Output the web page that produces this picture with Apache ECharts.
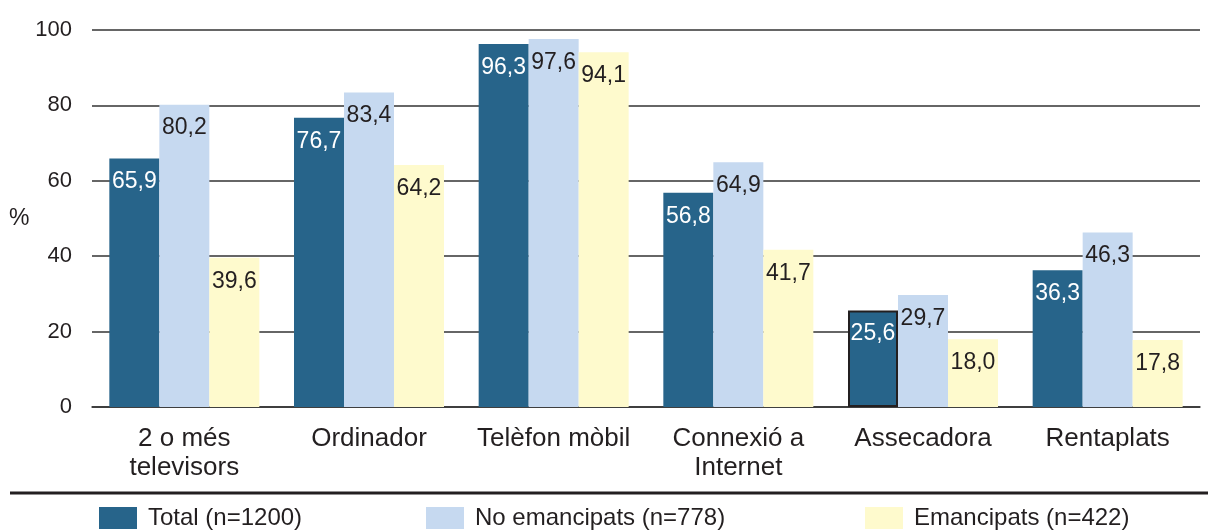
<!DOCTYPE html>
<html>
<head>
<meta charset="utf-8">
<script src="https://cdn.jsdelivr.net/npm/echarts@6/dist/echarts.min.js"></script>
<style>
  html, body { margin: 0; padding: 0; background: #fff; }
  #chart { width: 1208px; height: 532px; }
</style>
</head>
<body>
<div id="chart"></div>
<script>
// categories and values (%)
const categories = ["2 o més\ntelevisors", "Ordinador", "Telèfon mòbil", "Connexió a\nInternet", "Assecadora", "Rentaplats"];
const total = [65.9, 76.7, 96.3, 56.8, 25.6, 36.3];
const noEmancipats = [80.2, 83.4, 97.6, 64.9, 29.7, 46.3];
const emancipats = [39.6, 64.2, 94.1, 41.7, 18.0, 17.8];
const yTicks = [0, 20, 40, 60, 80, 100];

const FONT = "'Liberation Sans Narrow', 'Liberation Sans', sans-serif";
const INK = "#231f20";

let mychart = echarts.init(document.getElementById("chart"));

function fmt(p) {
  return p.value.toFixed(1).replace(".", ",");
}

function barSeries(name, data, color, labelColor) {
  return {
    name: name,
    type: "bar",
    barWidth: 50,
    barGap: "0%",
    data: data,
    itemStyle: { color: color },
    label: {
      show: true,
      position: "insideTop",
      distance: 12,
      color: labelColor,
      fontFamily: FONT,
      fontSize: 23,
      formatter: fmt
    }
  };
}

// the Assecadora total bar has a dark outline in the original
const totalData = total.map((v, i) =>
  i === 4 ? { value: v, itemStyle: { borderColor: INK, borderWidth: 2 } } : v
);

function legendAt(name, left) {
  return {
    data: [name],
    left: left,
    top: 506,
    padding: 0,
    icon: "rect",
    itemWidth: 38,
    itemHeight: 22,
    textStyle: { fontFamily: FONT, fontSize: 24, color: INK, padding: [0, 0, 0, 6] }
  };
}

mychart.setOption({
  animation: false,
  grid: { left: 92, right: 8, top: 30, bottom: 125, outerBoundsMode: "none" },
  legend: [
    legendAt("Total (n=1200)", 99),
    legendAt("No emancipats (n=778)", 426),
    legendAt("Emancipats (n=422)", 865)
  ],
  xAxis: {
    type: "category",
    data: categories,
    axisLine: { show: true, lineStyle: { color: "#333", width: 1.5 } },
    axisTick: { show: false },
    axisLabel: {
      fontFamily: FONT,
      fontSize: 26,
      color: INK,
      lineHeight: 29,
      margin: 17,
      interval: 0
    }
  },
  yAxis: {
    type: "value",
    min: 0,
    max: 100,
    interval: 20,
    name: "%",
    nameLocation: "middle",
    nameRotate: 0,
    nameGap: 60,
    nameTextStyle: { fontFamily: FONT, fontSize: 23, color: INK },
    axisLine: { show: false },
    axisTick: { show: false },
    splitLine: { lineStyle: { color: "#333", width: 1.5 } },
    axisLabel: {
      fontFamily: FONT,
      fontSize: 22,
      color: INK,
      margin: 20,
      formatter: v => (yTicks.includes(v) ? String(v) : "")
    }
  },
  graphic: [
    {
      type: "line",
      shape: { x1: 10, y1: 493, x2: 1208, y2: 493 },
      style: { stroke: INK, lineWidth: 3 }
    }
  ],
  series: [
    barSeries("Total (n=1200)", totalData, "#27648a", "#ffffff"),
    barSeries("No emancipats (n=778)", noEmancipats, "#c6d9f0", INK),
    barSeries("Emancipats (n=422)", emancipats, "#fefacd", INK)
  ]
});
window.addEventListener("resize", () => {
  mychart.resize();
});
</script>
</body>
</html>
